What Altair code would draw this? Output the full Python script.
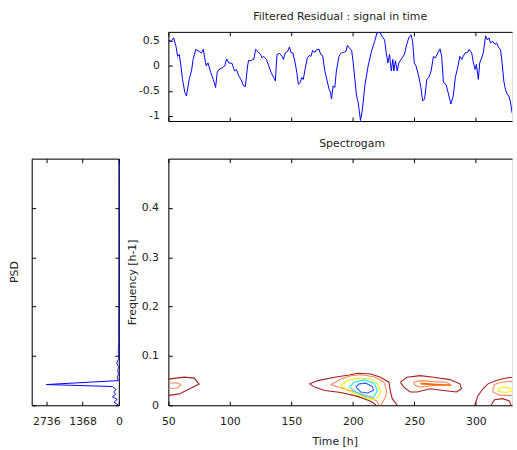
import altair as alt
import pandas as pd

FONT = "DejaVu Sans"
TXT = "#222222"

# ---------------- data ----------------
sig_t = [50, 52.2, 54.3, 56.2, 57.5, 58.9, 60.2, 61.5, 63.4, 64.7,
         66.9, 68.8, 70.1, 72.3, 75.0, 76.8, 78.4, 79.5, 80.8, 82.2,
         84.4, 86.5, 88.4, 89.7, 91.1, 93.7, 95.9, 97.3, 99.1, 101.8,
         103.7, 105.3, 107.2, 109.0, 111.2, 112.6, 114.4, 115.2, 117.1, 118.7,
         119.5, 120.9, 122.7, 124.9, 126.2, 127.5, 129.7, 131.6, 133.5, 135.6,
         137.0, 138.3, 140.4, 142.4, 143.6, 145.0, 146.9, 148.5, 149.6, 151.2,
         153.1, 154.4, 155.7, 157.1, 158.5, 159.7, 161.1, 163.0, 164.6, 165.9,
         167.3, 169.2, 170.5, 172.6, 173.8, 175.4, 177.2, 179.1, 180.7, 181.8,
         182.6, 183.9, 185.3, 186.6, 188.7, 189.5, 190.9, 192.3, 194.4, 195.5,
         197.1, 199.0, 200.3, 201.6, 203.0, 204.3, 206.2, 207.8, 209.7, 212.4,
         215.1, 217.7, 219.6, 221.7, 223.1, 224.5, 225.8, 227.1, 228.5, 229.8,
         231.2, 232.5, 233.3, 234.6, 236.0, 237.4, 239.2, 241.9, 243.8, 245.4,
         247.3, 248.6, 249.9, 251.3, 253.5, 255.3, 256.7, 258.3, 260.1, 261.8,
         263.6, 265.5, 267.1, 269.0, 270.9, 272.2, 273.6, 275.7, 277.1, 279.7,
         281.6, 283.3, 285.1, 287.0, 288.6, 289.7, 291.3, 293.2, 294.5, 296.6,
         298.0, 299.4, 300.4, 302.0, 303.1, 304.7, 306.0, 307.9, 309.3, 310.6,
         311.9, 313.8, 315.5, 316.8, 318.7, 320.0, 321.3, 322.7, 324.0, 325.4,
         326.7, 328.0, 329.4, 330.2]
sig_v = [0.51, 0.49, 0.56, 0.39, 0.19, 0.23, 0.00, -0.27, -0.53, -0.60,
         -0.27, -0.10, 0.13, 0.33, 0.29, 0.26, 0.33, 0.16, 0.00, 0.06,
         -0.13, -0.27, -0.43, -0.13, -0.07, -0.04, 0.00, 0.14, 0.06, 0.05,
         -0.10, -0.07, -0.20, -0.27, -0.40, -0.41, 0.00, 0.11, 0.10, 0.14,
         0.13, 0.33, 0.29, 0.23, 0.16, 0.19, 0.13, 0.00, -0.13, -0.23,
         -0.30, 0.23, 0.25, 0.19, 0.13, 0.26, 0.29, 0.38, 0.27, 0.26,
         0.06, -0.13, -0.37, -0.33, -0.23, -0.27, -0.07, 0.16, 0.21, 0.19,
         0.31, 0.27, 0.33, 0.33, 0.23, 0.21, -0.10, -0.30, -0.47, -0.52,
         -0.66, -0.40, -0.43, -0.10, 0.19, 0.23, 0.26, 0.27, 0.29, 0.41,
         0.36, 0.31, 0.06, -0.27, -0.60, -0.73, -1.09, -0.86, -0.40, 0.00,
         0.29, 0.49, 0.66, 0.67, 0.62, 0.56, 0.52, 0.26, 0.06, 0.23,
         -0.10, 0.13, -0.10, 0.10, -0.10, 0.06, 0.13, 0.23, 0.43, 0.56,
         0.62, 0.49, 0.06, 0.00, -0.20, -0.43, -0.70, -0.66, -0.27, -0.23,
         -0.10, 0.19, 0.16, 0.26, 0.34, 0.19, -0.33, -0.37, -0.50, -0.76,
         -0.60, -0.23, -0.04, 0.19, 0.13, 0.19, 0.26, 0.27, 0.33, 0.26,
         0.06, -0.07, 0.03, -0.27, 0.06, 0.16, 0.26, 0.60, 0.52, 0.56,
         0.46, 0.49, 0.43, 0.46, 0.36, 0.33, 0.06, -0.30, -0.47, -0.56,
         -0.60, -0.70, -0.93, -0.97]

psd_f = [0.0, 0.006, 0.012, 0.017, 0.022, 0.027, 0.032, 0.038, 0.042, 0.050,
         0.056, 0.062, 0.070, 0.078, 0.086, 0.094, 0.11, 0.13, 0.16, 0.2,
         0.25, 0.3, 0.35, 0.4, 0.45, 0.5]
psd_p = [15, 180, 60, 240, 120, 190, 110, 240, 2736, 15,
         60, 15, 40, 10, 80, 10, 20, 6, 10, 4,
         3, 2, 2, 1, 1, 1]

# contour lines (time [h], frequency [h-1]) per level
c1_t = [50, 62.9, 71.0, 75.0, 67.0, 58.9, 50.8, 50.0]
c1_f = [0.053, 0.057, 0.055, 0.043, 0.033, 0.023, 0.020, 0.020]
c2_t = [50, 57.5, 60.2, 57.5, 50]
c2_f = [0.045, 0.045, 0.041, 0.035, 0.034]
c3_t = [219.0, 214.5, 203.8, 190.3, 177.0, 168.9, 164.9, 171.6, 185.0, 197.1,
        203.8, 214.5, 222.5, 229.3, 230.6, 232.0, 236.0]
c3_f = [0.0, 0.008, 0.018, 0.026, 0.030, 0.0368, 0.0434, 0.050, 0.0568, 0.0614,
        0.0648, 0.0634, 0.0568, 0.0468, 0.0268, 0.0134, 0.0]
c4_t = [221.2, 219.9, 214.5, 206.4, 195.7, 187.7, 182.3, 190.3, 198.4, 206.4,
        217.2, 225.3, 227.4, 226.6, 222.5]
c4_f = [0.0, 0.0068, 0.0168, 0.0234, 0.0314, 0.0368, 0.042, 0.0534, 0.060, 0.062,
        0.058, 0.0468, 0.030, 0.0168, 0.0]
c5_t = [190.3, 195.7, 203.8, 214.5, 219.9, 222.5, 221.2, 217.2, 211.8, 203.8, 195.7, 190.3]
c5_f = [0.040, 0.050, 0.0554, 0.0534, 0.0434, 0.030, 0.0168, 0.0114, 0.0134, 0.022, 0.030, 0.040]
c6_t = [197.1, 201.1, 209.2, 217.2, 219.9, 217.2, 210.5, 202.4, 197.1]
c6_f = [0.0368, 0.0468, 0.0514, 0.0448, 0.030, 0.0168, 0.0168, 0.0268, 0.0368]
c7_t = [202.4, 205.2, 210.5, 215.9, 216.7, 211.8, 206.4, 202.4]
c7_f = [0.0368, 0.0434, 0.0448, 0.038, 0.030, 0.0248, 0.0268, 0.0368]
c8_t = [238.6, 244.0, 254.8, 265.5, 278.9, 287.0, 288.3, 284.3, 273.6, 262.8, 252.1, 246.7, 241.4, 238.6]
c8_f = [0.0468, 0.0568, 0.060, 0.0568, 0.052, 0.0434, 0.0334, 0.0268, 0.030, 0.0334, 0.0268, 0.0268, 0.0368, 0.0468]
c9_t = [249.4, 254.8, 265.5, 276.2, 280.3, 273.6, 265.5, 254.8, 250.7, 249.4]
c9_f = [0.0468, 0.050, 0.048, 0.0468, 0.040, 0.0414, 0.040, 0.0368, 0.040, 0.0468]
c10_t = [254.8, 268.2, 278.9, 268.2, 254.8]
c10_f = [0.0448, 0.0424, 0.0408, 0.0414, 0.0434]
c11_t = [299.0, 301.8, 305.8, 309.8, 316.5, 324.6, 330.2]
c11_f = [0.0, 0.020, 0.0334, 0.0434, 0.050, 0.0554, 0.0568]
c12_t = [330.2, 320.5, 315.1, 313.9, 313.9, 319.3, 330.2]
c12_f = [0.0488, 0.0468, 0.042, 0.0334, 0.0268, 0.020, 0.020]
c13_t = [317.9, 320.5, 324.6, 328.6, 328.6, 323.0, 318.5, 317.9]
c13_f = [0.0314, 0.0364, 0.0368, 0.0334, 0.0274, 0.0264, 0.0278, 0.0314]
c14_t = [312.5, 315.1, 321.9, 327.2, 328.6]
c14_f = [0.0, 0.0114, 0.0134, 0.0088, 0.0]

level_names = ["L1", "L2", "L3", "L4", "L5", "L6"]
level_colors = ["#a41e1e", "#ff8a5c", "#ff6a00", "#f2f200", "#19e6f0", "#1f5cff"]

contours = [
    ("c1", "L1", c1_t, c1_f), ("c2", "L2", c2_t, c2_f),
    ("c3", "L1", c3_t, c3_f), ("c4", "L2", c4_t, c4_f),
    ("c5", "L4", c5_t, c5_f), ("c6", "L5", c6_t, c6_f),
    ("c7", "L6", c7_t, c7_f), ("c8", "L1", c8_t, c8_f),
    ("c9", "L2", c9_t, c9_f), ("c10", "L3", c10_t, c10_f),
    ("c11", "L1", c11_t, c11_f), ("c12", "L2", c12_t, c12_f),
    ("c13", "L4", c13_t, c13_f), ("c14", "L1", c14_t, c14_f),
]

rows = []
for cid, lev, ts, fs in contours:
    for i, (t, f) in enumerate(zip(ts, fs)):
        rows.append({"id": cid, "lev": lev, "o": i, "t": t, "f": f})
cont_df = pd.DataFrame(rows)
sig_df = pd.DataFrame({"t": sig_t, "v": sig_v})
psd_df = pd.DataFrame({"f": psd_f, "p": psd_p})

# ---------------- layout constants ----------------
W = 347      # main/top plot width
HT = 90      # top plot height
HM = 249     # main plot height
WP = 88      # psd plot width
XT = [50, 100, 150, 200, 250, 300]
FT = [0, 0.1, 0.2, 0.3, 0.4]

xs = alt.Scale(domain=[50, 329.4], nice=False, zero=False)
ys_top = alt.Scale(domain=[-1.1, 0.68], nice=False, zero=False)
ys_f = alt.Scale(domain=[0, 0.5], nice=False, zero=False)
xs_p = alt.Scale(domain=[0, 3290], reverse=True, nice=False, zero=False)


def AX(**kw):
    base = dict(grid=False, labelFont=FONT, labelFontSize=11, labelColor=TXT,
                titleFont=FONT, titleFontSize=11, titleFontWeight="normal",
                titleColor=TXT, domainColor="black", tickColor="black",
                domainWidth=1, tickWidth=1, labelFlush=False)
    base.update(kw)
    return alt.Axis(**base)


def frame_layers(data, xf, yf, xsc, ysc, w, h, xv, yv, right_border):
    inv = alt.Chart(data).mark_point(opacity=0)
    b = inv.encode(
        x=alt.X(xf, scale=xsc, title=None,
                axis=AX(orient="top", offset=-h, values=xv, labels=False,
                        domain=False, ticks=True, tickSize=4)),
        y=alt.Y(yf, scale=ysc, title=None,
                axis=AX(orient="right", offset=-w, values=yv, labels=False,
                        domain=False, ticks=True, tickSize=4)),
    )
    if right_border:
        yenc = alt.Y(yf, scale=ysc, title=None,
                     axis=AX(orient="left", offset=-w, values=yv, labels=False,
                             domain=True, ticks=True, tickSize=4))
    else:
        yenc = alt.Y(yf, scale=ysc, axis=None)
    c = inv.encode(
        x=alt.X(xf, scale=xsc, title=None,
                axis=AX(orient="bottom", offset=-h, values=xv, labels=False,
                        domain=True, ticks=True, tickSize=4)),
        y=yenc,
    )
    return [b, c]


# ---------------- top panel: signal ----------------
top_line = alt.Chart(sig_df).mark_line(color="#0000ff", strokeWidth=1, clip=True).encode(
    x=alt.X("t:Q", scale=xs, title=None,
            axis=AX(orient="bottom", values=XT, labels=False, ticks=False,
                    tickSize=0, domain=True)),
    y=alt.Y("v:Q", scale=ys_top, title=None,
            axis=AX(orient="left", values=[-1, -0.5, 0, 0.5], labelExpr="datum.value + ''",
                    ticks=False, tickSize=0, domain=True, labelPadding=9)),
)
top = alt.layer(top_line, *frame_layers(sig_df, "t:Q", "v:Q", xs, ys_top, W, HT,
                                         XT, [-1, -0.5, 0, 0.5], False)).resolve_axis(
    x="independent", y="independent").properties(
    width=W, height=HT,
    title=alt.TitleParams("Filtered Residual : signal in time", font=FONT, fontSize=11,
                          fontWeight="normal", color=TXT, offset=8))

# ---------------- left panel: PSD ----------------
psd_line = alt.Chart(psd_df).mark_line(color="#0000ff", strokeWidth=1, clip=True).encode(
    x=alt.X("p:Q", scale=xs_p, title=None,
            axis=AX(orient="bottom", values=[0, 1368, 2736], labelExpr="datum.value + ''",
                    ticks=False, tickSize=0, domain=True, labelPadding=10)),
    y=alt.Y("f:Q", scale=ys_f, title="PSD",
            axis=AX(orient="left", values=FT, labels=False, ticks=False, tickSize=0,
                    domain=True, titlePadding=12, titleY=114)),
    order=alt.Order("f:Q"),
)
psd = alt.layer(psd_line, *frame_layers(psd_df, "p:Q", "f:Q", xs_p, ys_f, WP, HM,
                                         [0, 1368, 2736], FT, True)).resolve_axis(
    x="independent", y="independent").properties(width=WP, height=HM)

# ---------------- main panel: spectrogram contours ----------------
cont = alt.Chart(cont_df).mark_line(strokeWidth=1.1, clip=True).encode(
    x=alt.X("t:Q", scale=xs, title="Time [h]",
            axis=AX(orient="bottom", values=XT, labelExpr="datum.value + ''",
                    ticks=False, tickSize=0, domain=True, labelPadding=10,
                    titlePadding=10, titleX=168)),
    y=alt.Y("f:Q", scale=ys_f, title="Frequency [h-1]",
            axis=AX(orient="left", values=FT, labelExpr="datum.value + ''",
                    ticks=False, tickSize=0, domain=True, labelPadding=10,
                    titlePadding=4)),
    detail="id:N",
    order=alt.Order("o:Q"),
    color=alt.Color("lev:N", scale=alt.Scale(domain=level_names, range=level_colors),
                    legend=None),
)
main = alt.layer(cont, *frame_layers(cont_df, "t:Q", "f:Q", xs, ys_f, W, HM,
                                      XT, FT, False)).resolve_axis(
    x="independent", y="independent").properties(
    width=W, height=HM,
    title=alt.TitleParams("Spectrogam", font=FONT, fontSize=11, fontWeight="normal",
                          color=TXT, offset=9, dx=12))

# empty top-left cell
empty = alt.Chart(pd.DataFrame({"a": [0]})).mark_point(opacity=0).encode(
    x=alt.X("a:Q", axis=None), y=alt.Y("a:Q", axis=None)).properties(
    width=WP, height=HT, view=alt.ViewBackground(stroke="transparent", fill="transparent"))

chart = alt.concat(empty, top, psd, main, columns=2, spacing={"row": 38, "column": 50},
                   bounds="flush", align="each").properties(
    padding={"left": 8, "top": 8, "right": 0, "bottom": 0}
).configure_view(stroke="transparent").configure(background="white")

chart.save("out.html", embed_options={"renderer": "svg", "actions": False})
